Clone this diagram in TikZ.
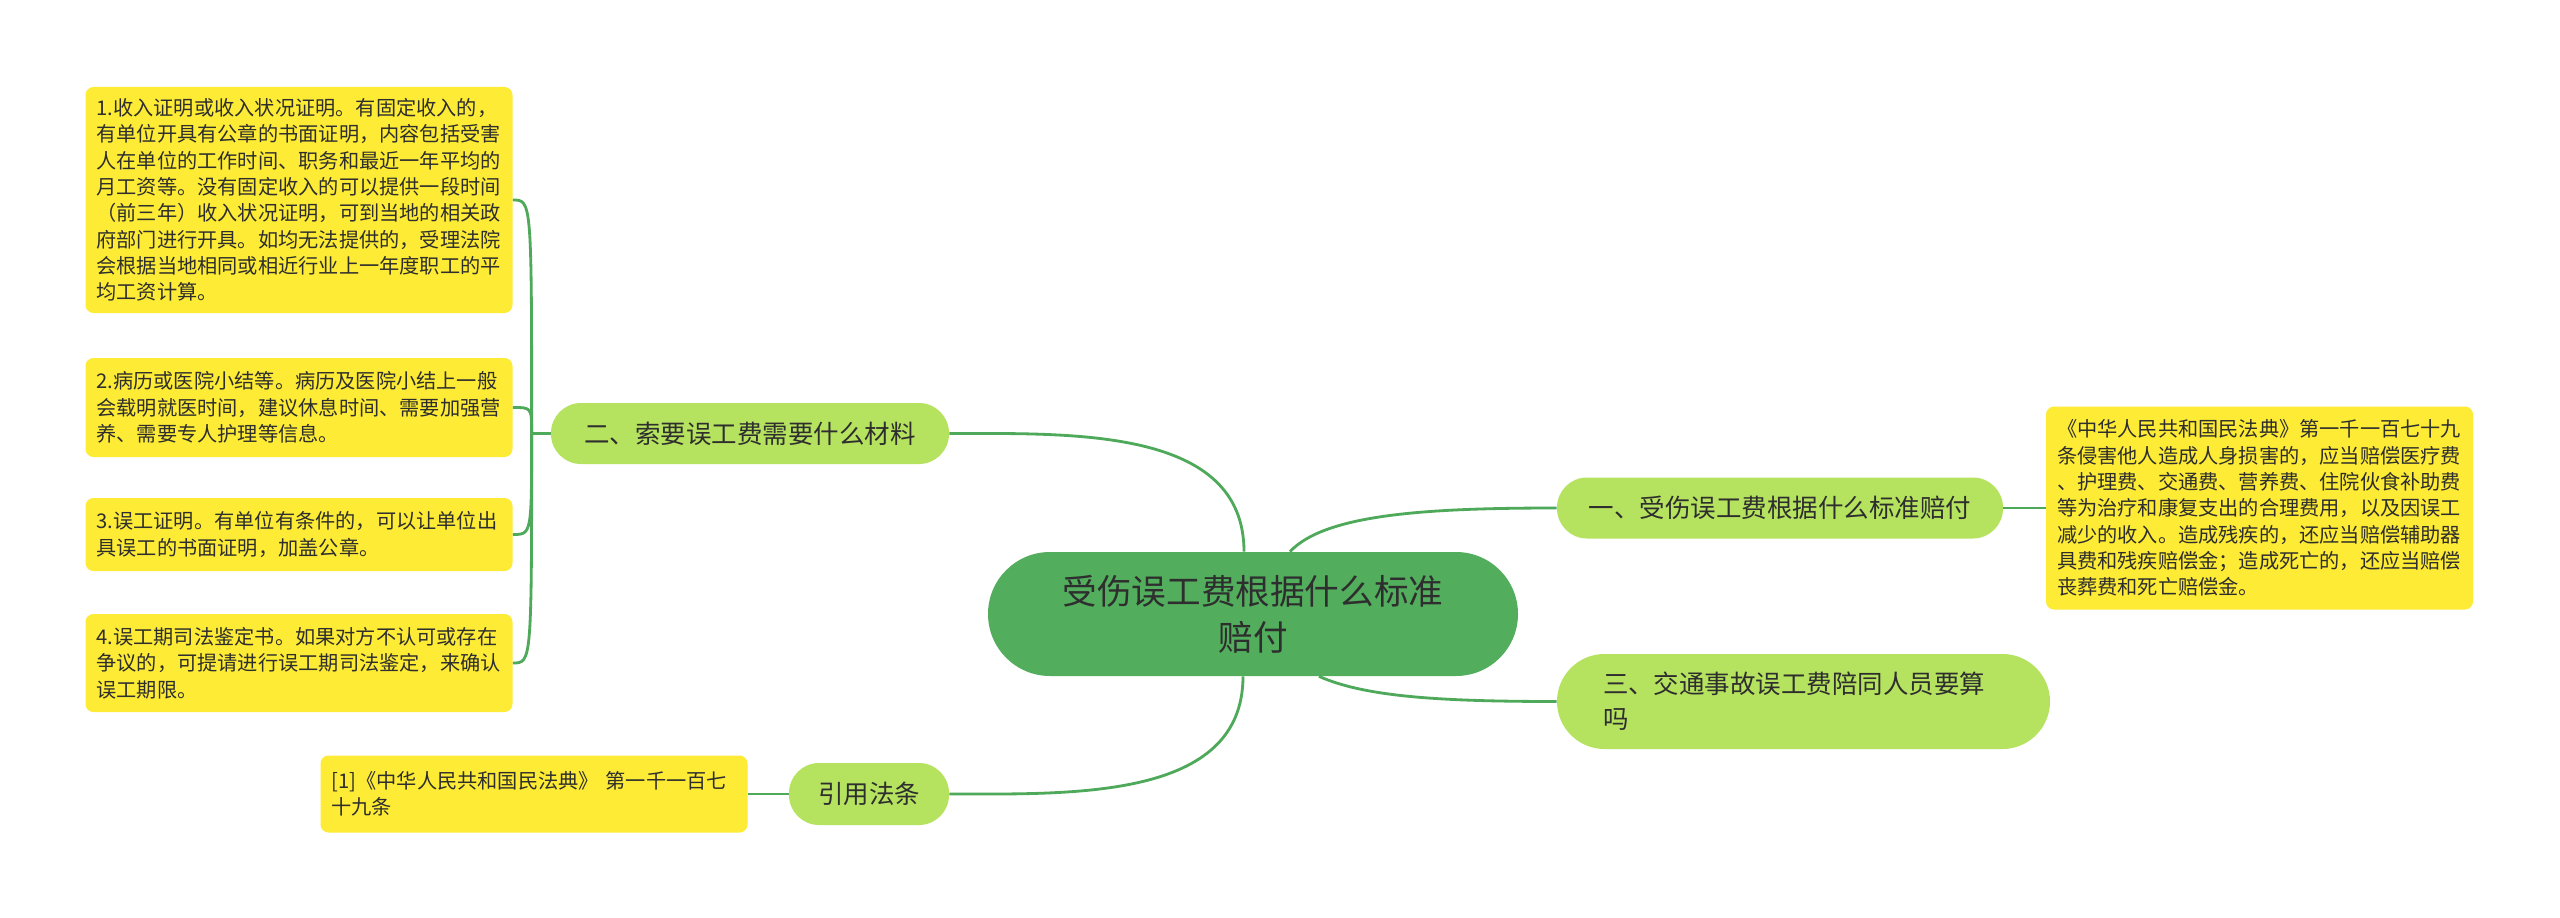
\documentclass[tikz,border=0pt]{standalone}
\usepackage{fontspec}
\setmainfont{Noto Sans CJK SC}
\usepackage{xcolor}
\usepackage{tikz}
\definecolor{rootgreen}{HTML}{52AE5D}
\definecolor{branchgreen}{HTML}{B5E35F}
\definecolor{leafyellow}{HTML}{FDEB35}
\definecolor{linkgreen}{HTML}{4FA95A}
\definecolor{ink}{HTML}{2E2E2E}

\begin{document}
\begin{tikzpicture}[
  root/.style={rectangle, rounded corners=1.24cm, fill=rootgreen, text=ink,
               minimum width=10.6cm, minimum height=2.48cm, align=center,
               font=\fontsize{19.7}{26}\selectfont},
  branch/.style={rectangle, rounded corners=0.6cm, fill=branchgreen, text=ink,
                 minimum height=1.22cm, align=center,
                 font=\fontsize{14.5}{20}\selectfont},
  leaf/.style={rectangle, rounded corners=0.16cm, fill=leafyellow, text=ink,
               align=left, text width=8.1cm, inner xsep=0.22cm,
               font=\fontsize{11.5}{15}\selectfont},
  link/.style={linkgreen, line width=1.6pt}]
  \fill[white] (0,0) rectangle (51.2,-18.36);
  \useasboundingbox (0,0) rectangle (51.2,-18.36);

  % centre and first level
  \node[root] (root) at (25.06,-12.28) {受伤误工费根据什么标准\\赔付};
  \node[branch, minimum width=8.92cm] (std) at (35.6,-10.16) {一、受伤误工费根据什么标准赔付};
  \node[branch, minimum width=7.96cm] (mat) at (15.0,-8.67) {二、索要误工费需要什么材料};
  \node[branch, rounded corners=0.95cm, minimum height=1.9cm, align=left,
        text width=8.02cm, inner xsep=0.92cm] (acc) at (36.07,-14.03)
        {三、交通事故误工费陪同人员要算\\吗};
  \node[branch, minimum width=3.2cm, minimum height=1.24cm] (ref) at (17.38,-15.88) {引用法条};

  % leaves
  \node[leaf, minimum height=4.06cm] (law) at (45.19,-10.16)
    {《中华人民共和国民法典》第一千一百七十九\\
     条侵害他人造成人身损害的，应当赔偿医疗费\\
     、护理费、交通费、营养费、住院伙食补助费\\
     等为治疗和康复支出的合理费用，以及因误工\\
     减少的收入。造成残疾的，还应当赔偿辅助器\\
     具费和残疾赔偿金；造成死亡的，还应当赔偿\\
     丧葬费和死亡赔偿金。};
  \node[leaf, minimum height=4.52cm] (m1) at (5.98,-4.0)
    {1.收入证明或收入状况证明。有固定收入的，\\
     有单位开具有公章的书面证明，内容包括受害\\
     人在单位的工作时间、职务和最近一年平均的\\
     月工资等。没有固定收入的可以提供一段时间\\
     （前三年）收入状况证明，可到当地的相关政\\
     府部门进行开具。如均无法提供的，受理法院\\
     会根据当地相同或相近行业上一年度职工的平\\
     均工资计算。};
  \node[leaf, minimum height=1.98cm] (m2) at (5.98,-8.15)
    {2.病历或医院小结等。病历及医院小结上一般\\
     会载明就医时间，建议休息时间、需要加强营\\
     养、需要专人护理等信息。};
  \node[leaf, minimum height=1.46cm] (m3) at (5.98,-10.69)
    {3.误工证明。有单位有条件的，可以让单位出\\
     具误工的书面证明，加盖公章。};
  \node[leaf, minimum height=1.96cm] (m4) at (5.98,-13.26)
    {4.误工期司法鉴定书。如果对方不认可或存在\\
     争议的，可提请进行误工期司法鉴定，来确认\\
     误工期限。};
  \node[leaf, minimum height=1.54cm] (cite) at (10.68,-15.88)
    {[1]《中华人民共和国民法典》 第一千一百七\\
     十九条};

  % connectors
  \draw[link] ([xshift=-0.18cm]root.north) to[out=90,in=0] (mat.east);
  \draw[link] ([xshift=0.74cm]root.north) .. controls +(0.7,0.75) and +(-2.6,0) .. (std.west);
  \draw[link] ([xshift=1.32cm]root.south) .. controls +(0.9,-0.4) and +(-2.4,0) .. (acc.west);
  \draw[link] ([xshift=-0.2cm]root.south) to[out=-90,in=0] (ref.east);
  \draw[link] (std.east) -- (law.west);
  \draw[link] (ref.west) -- (cite.east);
  \coordinate (hub) at ([xshift=-0.38cm]mat.west);
  \draw[link] (mat.west) -- (hub);
  \foreach \m in {m1,m2,m3,m4}
    \draw[link] (hub) .. controls (hub |- \m.east) .. (\m.east);
\end{tikzpicture}
\end{document}
